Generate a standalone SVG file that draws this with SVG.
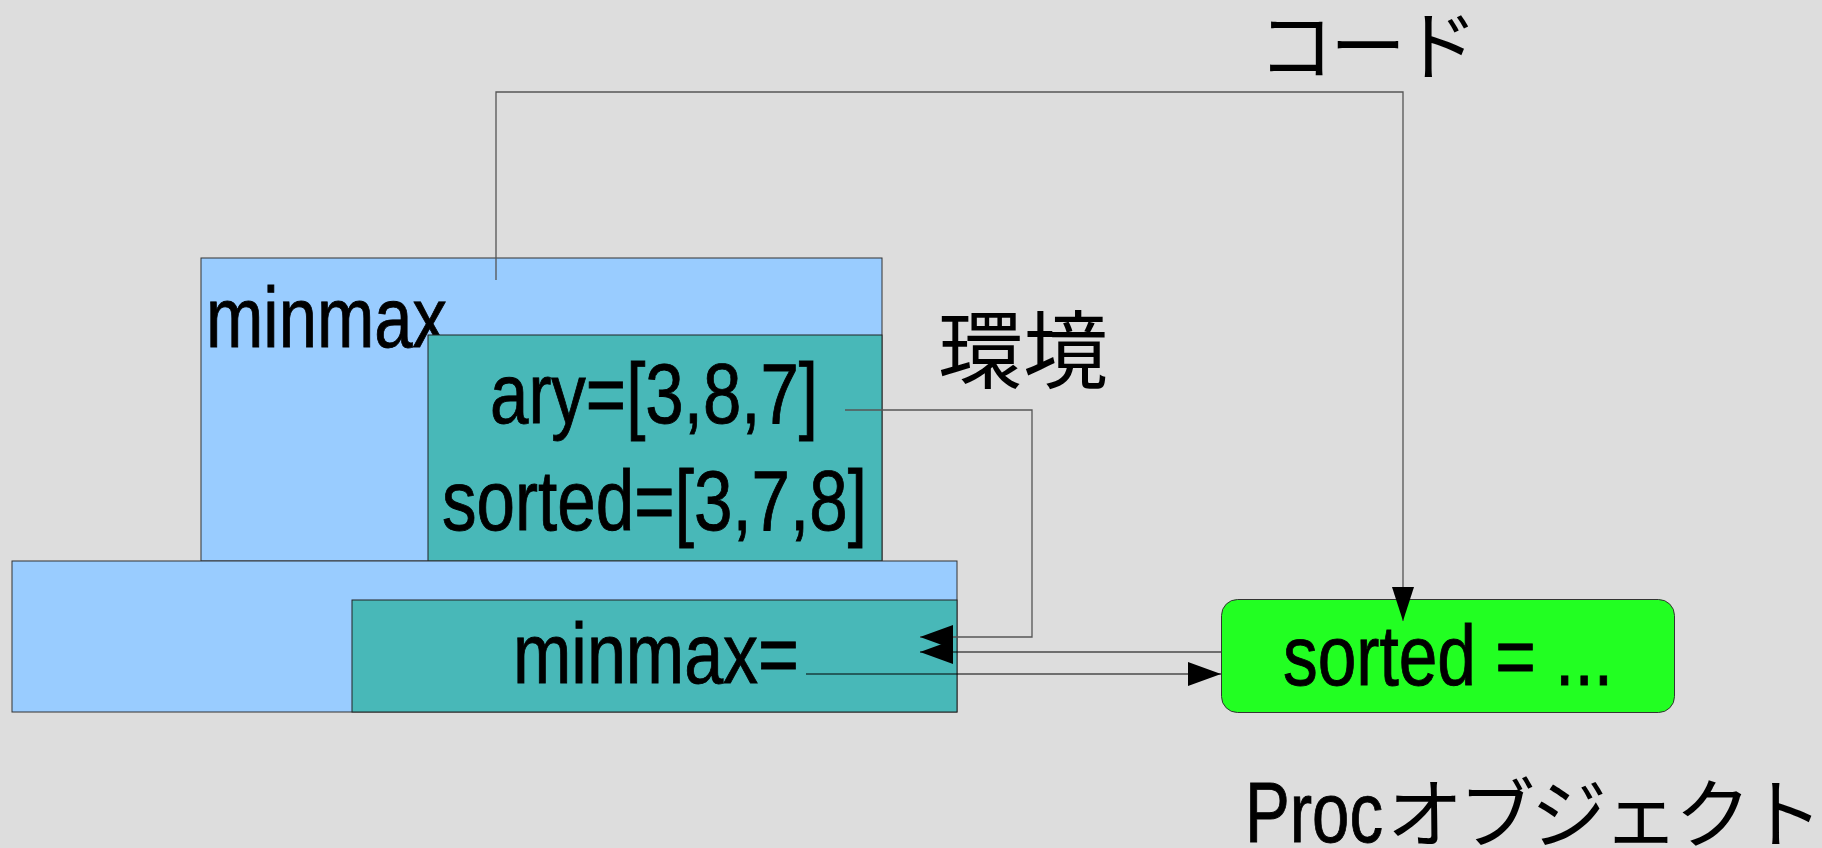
<svg xmlns="http://www.w3.org/2000/svg" width="1822" height="848" viewBox="0 0 1822 848">
<style>
.lat{font-family:"Liberation Sans Narrow","Liberation Sans",Arial,sans-serif;font-size:85px;fill:#000;stroke:#000;stroke-width:0.9}
.cjk{font-family:"Noto Sans CJK JP","Noto Sans CJK SC",sans-serif;fill:#000}
.blue{fill:#99ccff;stroke:#333;stroke-width:1}
.teal{fill:#48b8b8;stroke:#222;stroke-width:1}
.ln{fill:none;stroke:#000;stroke-width:1.2}
.lg{fill:none;stroke:#555;stroke-width:1.3}
</style>
<defs>
<marker id="ah" markerUnits="userSpaceOnUse" markerWidth="40" markerHeight="30" refX="33" refY="12" orient="auto">
<path d="M0,0 L33,12 L0,24 Z" fill="#000"/>
</marker>
<marker id="ahv" markerUnits="userSpaceOnUse" markerWidth="40" markerHeight="30" refX="34" refY="11" orient="auto">
<path d="M0,0 L34,11 L0,22 Z" fill="#000"/>
</marker>
</defs>
<rect width="1822" height="848" fill="#dddddd"/>
<g id="outer-frame">
<rect class="blue" x="201" y="258" width="681" height="303"/>
<text class="lat" x="206" y="347" textLength="241" lengthAdjust="spacingAndGlyphs">minmax</text>
</g>
<g id="env-box">
<rect class="teal" x="428" y="335" width="454" height="226"/>
<text class="lat" x="490" y="423" textLength="328" lengthAdjust="spacingAndGlyphs">ary=[3,8,7]</text>
<text class="lat" x="442" y="530" textLength="425" lengthAdjust="spacingAndGlyphs">sorted=[3,7,8]</text>
</g>
<g id="caller-frame">
<rect class="blue" x="12" y="561" width="945" height="151"/>
</g>
<g id="caller-env">
<rect class="teal" x="352" y="600" width="605" height="112"/>
<text class="lat" x="513" y="683" textLength="286" lengthAdjust="spacingAndGlyphs">minmax=</text>
</g>
<g id="proc">
<rect x="1221.5" y="599.5" width="453" height="113" rx="16" ry="16" fill="#22ff22" stroke="#333" stroke-width="1"/>
<text class="lat" x="1283" y="685" textLength="330" lengthAdjust="spacingAndGlyphs">sorted = ...</text>
</g>
<g id="labels">
<text class="cjk" x="1258" y="74" font-size="76" letter-spacing="-4">コード</text>
<text class="cjk" x="938" y="382" font-size="85">環境</text>
<text class="lat" x="1245" y="842" textLength="138" lengthAdjust="spacingAndGlyphs">Proc</text>
<text class="cjk" x="1387" y="842" font-size="76" letter-spacing="-4">オブジェクト</text>
</g>
<g id="connectors">
<path class="lg" d="M496,280 V92 H1403 V621" marker-end="url(#ahv)"/>
<path class="lg" d="M845,410 H1032 V637 H920" marker-end="url(#ah)"/>
<path class="ln" d="M1221,652 H920" marker-end="url(#ah)"/>
<path class="ln" d="M806,674 H1221" marker-end="url(#ah)"/>
</g>
</svg>
